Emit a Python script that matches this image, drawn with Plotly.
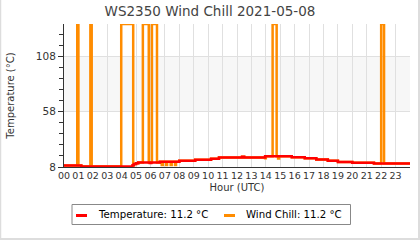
import plotly.graph_objects as go

# ---- data ----
hour_ticks = list(range(24))
hour_labels = [f"{h:02d}" for h in hour_ticks]

temp_hours = [0.0, 1.2, 4.75, 4.85, 5.0, 5.15, 5.95, 6.05, 6.65, 8.0, 9.1, 10.2, 10.75,
              12.35, 12.5, 13.95, 15.8, 16.7, 17.5, 18.3, 19.0, 20.0, 21.5, 24.0]
temp_values = [9.3, 8.4, 9.5, 10.8, 11.5, 12.0, 11.7, 12.1, 12.8, 13.6, 14.5, 15.5, 16.7,
               17.3, 16.7, 17.8, 16.8, 15.8, 14.7, 13.6, 12.6, 11.8, 11.2, 11.2]

chill_hours = [0.0, 0.92, 1.0, 1.2, 1.83, 1.92, 3.97, 4.8, 4.85, 5.0, 5.15, 5.47, 5.88,
               6.1, 6.45, 6.65, 6.78, 6.85, 7.08, 7.15, 7.4, 7.47, 7.7, 7.77, 8.0, 9.1,
               10.2, 10.75, 12.35, 12.5, 13.95, 14.0, 14.47, 14.75, 14.85, 14.92, 15.8,
               16.7, 17.5, 18.3, 19.0, 20.0, 21.5, 22.0, 22.2, 24.0]
chill_values = [9.3, 137.2, 9.3, 8.4, 137.2, 8.4, 137.2, 9.5, 10.8, 11.5, 12.0, 137.2, 12.0,
                137.2, 12.1, 12.8, 9.9, 12.8, 9.9, 12.8, 9.9, 12.8, 9.9, 12.8, 13.6, 14.5,
                15.5, 16.7, 17.3, 16.7, 16.0, 17.8, 137.2, 17.8, 15.6, 17.8, 16.8,
                15.8, 14.7, 13.6, 12.6, 11.8, 11.2, 137.2, 11.2, 11.2]

legend_names = ["Temperature: 11.2 °C", "Wind Chill: 11.2 °C"]
colors = ["#ff0000", "#ff8c00"]

# ---- geometry helpers (pixels -> paper) ----
W, H = 420, 240
ML, MR, MT, MB = 64, 10, 24, 73
PW, PH = W - ML - MR, H - MT - MB


def px(x):
    return (x - ML) / PW


def py(y):
    return (H - MB - y) / PH


fig = go.Figure()
fig.add_trace(go.Scatter(x=chill_hours, y=chill_values, mode="lines", line_shape="hv",
                         line=dict(color=colors[1], width=2.5), name=legend_names[1],
                         showlegend=False))
fig.add_trace(go.Scatter(x=temp_hours, y=temp_values, mode="lines", line_shape="hv",
                         line=dict(color=colors[0], width=2.5), name=legend_names[0],
                         showlegend=False))

font = "DejaVu Sans"
shapes = [
    # alternate band
    dict(type="rect", xref="paper", yref="y", x0=0, x1=1, y0=58, y1=108,
         fillcolor="#f7f7f7", line=dict(width=0), layer="below"),
    # outer border
    dict(type="line", xref="paper", yref="paper", x0=px(0.5), x1=px(0.5), y0=py(0), y1=py(240),
         line=dict(color="#dddddd", width=1.5)),
    dict(type="line", xref="paper", yref="paper", x0=px(419), x1=px(419), y0=py(0), y1=py(240),
         line=dict(color="#dddddd", width=2)),
    dict(type="line", xref="paper", yref="paper", x0=px(0), x1=px(420), y0=py(239), y1=py(239),
         line=dict(color="#dddddd", width=2)),
    # legend box
    dict(type="rect", xref="paper", yref="paper", x0=px(72), x1=px(350.5), y0=py(204.5), y1=py(224.5),
         line=dict(color="#888888", width=1), fillcolor="rgba(0,0,0,0)"),
    dict(type="line", xref="paper", yref="paper", x0=px(76), x1=px(87), y0=py(215.5), y1=py(215.5),
         line=dict(color=colors[0], width=3)),
    dict(type="line", xref="paper", yref="paper", x0=px(224), x1=px(235), y0=py(215.5), y1=py(215.5),
         line=dict(color=colors[1], width=3)),
]

annotations = [
    dict(xref="paper", yref="paper", x=px(96), y=py(214.5), text=legend_names[0], showarrow=False,
         xanchor="left", yanchor="middle", font=dict(family=font, size=10.2, color="#000")),
    dict(xref="paper", yref="paper", x=px(244), y=py(214.5), text=legend_names[1], showarrow=False,
         xanchor="left", yanchor="middle", font=dict(family=font, size=10.2, color="#000")),
]

fig.update_layout(
    width=W, height=H,
    margin=dict(l=ML, r=MR, t=MT, b=MB, pad=0),
    paper_bgcolor="white", plot_bgcolor="white",
    title=dict(text="WS2350 Wind Chill 2021-05-08", x=0.5, xref="container", xanchor="center",
               y=1 - 11 / H, yref="container", yanchor="middle",
               font=dict(family=font, size=13.5, color="#444444")),
    font=dict(family=font, color="#444444"),
    shapes=shapes,
    annotations=annotations,
    showlegend=False,
    xaxis=dict(range=[0, 24], tickvals=hour_ticks, ticktext=hour_labels, tickangle=0,
               showgrid=True, gridcolor="#e0e0e0", gridwidth=1,
               showline=True, linecolor="#333333", linewidth=1,
               ticks="", zeroline=False,
               tickfont=dict(family=font, size=9.5, color="#333333"),
               title=dict(text="Hour (UTC)", standoff=3,
                          font=dict(family=font, size=10, color="#333333"))),
    yaxis=dict(range=[8, 137.3], tickvals=[8, 58, 108],
               showgrid=True, gridcolor="#e0e0e0", gridwidth=1,
               showline=True, linecolor="#333333", linewidth=1,
               ticks="outside", ticklen=5, tickcolor="#333333", zeroline=False,
               minor=dict(dtick=10, tick0=8, ticks="outside", ticklen=4, tickcolor="#333333",
                          showgrid=False),
               tickfont=dict(family=font, size=10.5, color="#333333"),
               title=dict(text="Temperature (°C)", standoff=19,
                          font=dict(family=font, size=10, color="#333333"))),
)

fig.write_html("out.html")
